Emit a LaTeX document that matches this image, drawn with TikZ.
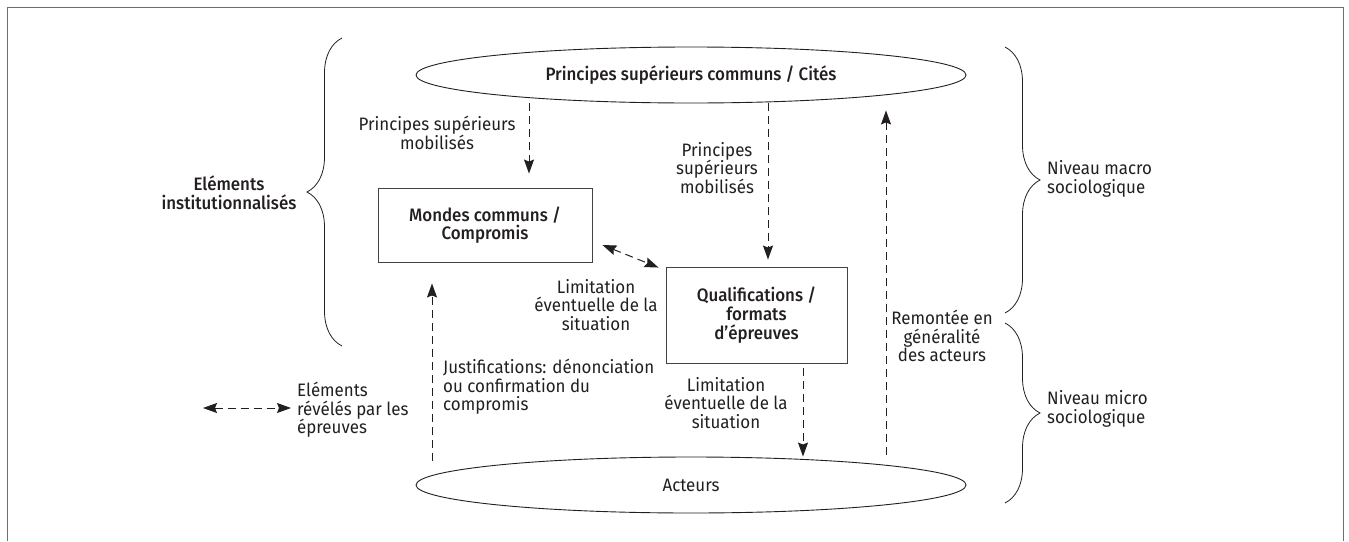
\documentclass[tikz,border=0pt]{standalone}
\usepackage{fontspec}
\setmainfont{Fira Sans}[BoldFont={Fira Sans Medium},FakeStretch=0.94]
\usetikzlibrary{shapes.geometric,arrows.meta,decorations.pathreplacing}
\definecolor{ink}{RGB}{35,31,32}
\definecolor{framegray}{RGB}{110,110,110}

\begin{document}
\begin{tikzpicture}[x=1pt,y=-1pt,
  txt/.style={font=\fontsize{18}{18.7}\selectfont,text=ink,align=center,inner sep=0pt},
  bold/.style={font=\fontsize{18}{18.7}\selectfont\bfseries},
  bx/.style={txt,bold,draw=ink!85,line width=0.9pt,rectangle},
  ell/.style={txt,draw=ink,line width=0.9pt,ellipse,minimum width=550pt,minimum height=56pt},
  flow/.style={draw=ink,line width=1pt,dash pattern=on 8pt off 5pt,-{Stealth[length=14pt,width=10pt,inset=2pt]}},
  bflow/.style={flow,{Stealth[length=14pt,width=10pt,inset=2pt]}-{Stealth[length=14pt,width=10pt,inset=2pt]}},
  brc/.style={draw=ink,line width=0.8pt,decorate,decoration={brace,amplitude=35pt}}]

\useasboundingbox (0,0) rectangle (1349,541);
\draw[framegray,line width=1pt] (7,541) -- (7,7) -- (1343,7) -- (1343,541);

\node[ell,bold] (sup) at (691,75) {Principes supérieurs communs / Cités};
\node[ell] (act) at (691,485) {Acteurs};
\node[bx,minimum width=214pt,minimum height=74pt] (mondes) at (485,225) {Mondes communs /\\ Compromis};
\node[bx,minimum width=181pt,minimum height=96pt] (qual) at (756.5,315) {Qualifications /\\ formats\\ d’épreuves};

\node[txt] (lsup) at (437,133) {Principes supérieurs\\ mobilisés};
\node[txt] (lqual) at (717,168) {Principes\\ supérieurs\\ mobilisés};
\node[txt] (llima) at (596,305) {Limitation\\ éventuelle de la\\ situation};
\node[txt] (llimb) at (726,403) {Limitation\\ éventuelle de la\\ situation};
\node[txt,anchor=west,align=left] (ljust) at (443,387) {Justifications: dénonciation\\ ou confirmation du\\ compromis};
\node[txt] (lrem) at (942,336) {Remontée en\\ généralité\\ des acteurs};
\node[txt,anchor=west,align=left] (lrev) at (297,410) {Eléments\\ révélés par les\\ épreuves};
\node[txt,bold] (linst) at (229,192.5) {Eléments\\ institutionnalisés};
\node[txt,anchor=west,align=left] (lmacro) at (1047,179) {Niveau macro\\ sociologique};
\node[txt,anchor=west,align=left] (lmicro) at (1047,409) {Niveau micro\\ sociologique};

\draw[brc] (342,346) -- (342,38);
\draw[brc] (1005,47) -- (1005,313);
\draw[brc] (1005,323) -- (1005,503);

\draw[flow] ([xshift=44pt]mondes.north |- sup.south) -- ([xshift=44pt,yshift=14pt]mondes.north);
\draw[flow] ([xshift=11.5pt]qual.north |- sup.south) -- ([xshift=11.5pt,yshift=7pt]qual.north);
\draw[flow] ([xshift=195pt,yshift=2pt]act.north) -- ([xshift=195pt,yshift=-7pt]sup.south);
\draw[flow] ([xshift=-259pt,yshift=-4pt]act.north) -- ([xshift=-53pt,yshift=-21pt]mondes.south);
\draw[flow] ([xshift=46.5pt,yshift=-5pt]qual.south) -- ([xshift=112pt]act.north);
\draw[bflow] ([xshift=10pt,yshift=-20pt]mondes.east) -- ([xshift=-7pt,yshift=-1pt]qual.north west);

\coordinate (revl) at (203,408);
\draw[bflow] (revl) -- ([xshift=-6pt,yshift=2pt]lrev.west);

\end{tikzpicture}
\end{document}
